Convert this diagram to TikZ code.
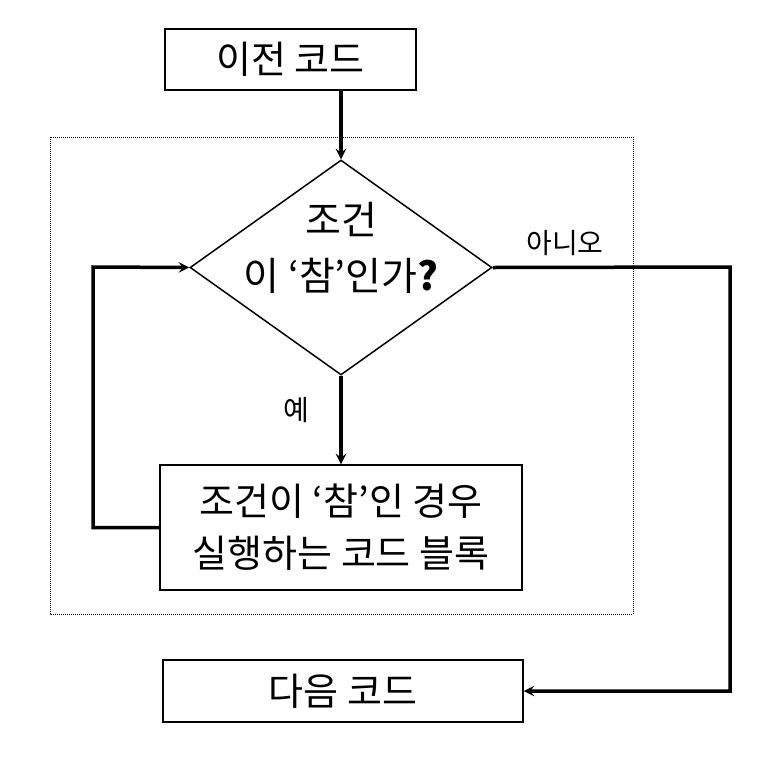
\documentclass[tikz,border=0pt]{standalone}
\usepackage{fontspec}
\setmainfont{Noto Sans CJK KR}
\usetikzlibrary{shapes.geometric}
\begin{document}
\begin{tikzpicture}[
      x=1pt, y=-1pt,
      box/.style={draw, line width=1.5pt, inner sep=0pt, font=\fontsize{38}{52}\selectfont},
      cond/.style={draw, diamond, line width=1.5pt, minimum width=302pt, minimum height=215pt, inner sep=0pt, aspect=1.4},
      flow/.style={line width=3.5pt, ->, >=stealth},
      big/.style={font=\fontsize{39}{44}\selectfont},
      small/.style={font=\fontsize{28}{30}\selectfont}
    ]
    \useasboundingbox (0,0) rectangle (764,756);
    % Draw the frame of the loop.
    \draw[densely dotted, line width=1pt] (50,137) rectangle (633,614);
    % Draw the boxes.
    \node[box, minimum width=251pt, minimum height=61pt] (prev) at (290.5,59.5) {이전 코드};
    \node[cond] (test) at (341,267.5) {};
    \node[big] (testa) at (341,220) {조건};
    \node[big] (testb) at (341,276) {이 ‘참’인가\textbf{?}};
    \node[box, minimum width=362pt, minimum height=125pt, align=center] (body) at (341,527.5) {조건이 ‘참’인 경우\\실행하는 코드 블록};
    \node[box, minimum width=360pt, minimum height=62pt] (next) at (343,691) {다음 코드};
    % Draw the connectors.
    \coordinate (right) at (730,267);
    \coordinate (left) at (93,267);
    \node[small] (yes) at (296,410) {예};
    \node[small] (no) at (565,243) {아니오};
    \draw[flow] (prev.south -| test.north) -- (test.north);
    \draw[flow] (test.south) -- (body);
    \draw[flow] (test.east) -- (right) |- (next);
    \draw[flow] (body.west) -| (left) -- (test.west);
\end{tikzpicture}
\end{document}
